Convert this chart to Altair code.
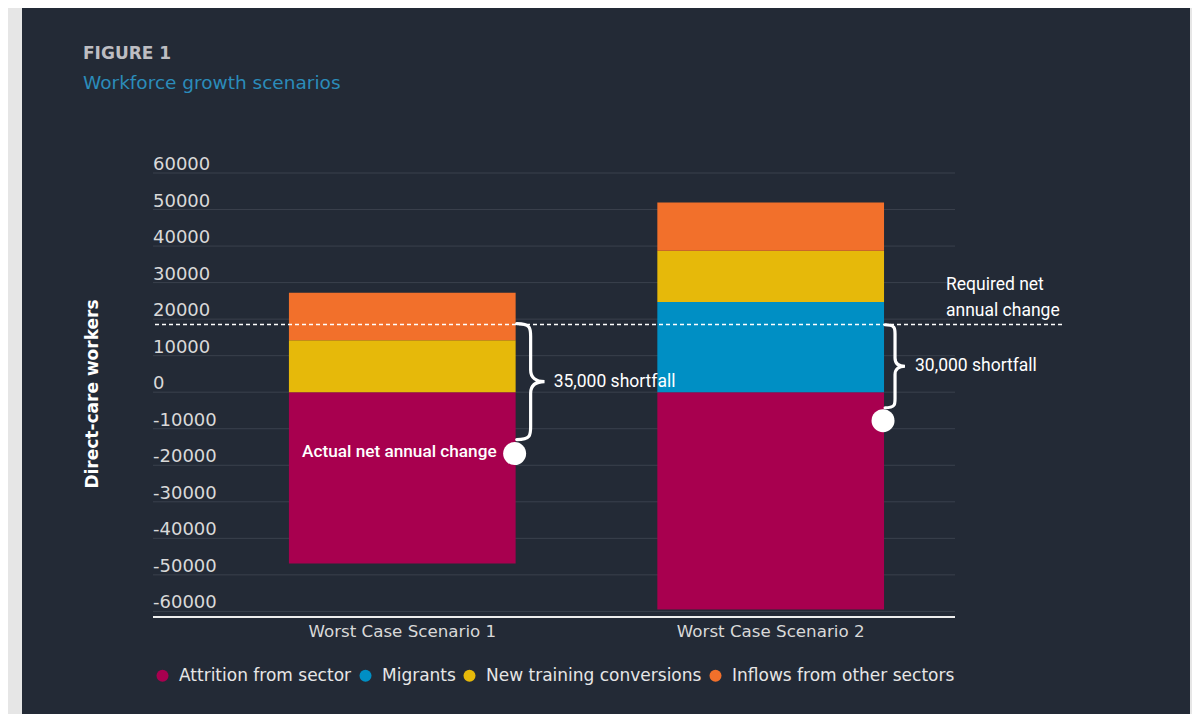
import altair as alt
import pandas as pd

# ---------------- data ----------------
scenarios = ["Worst Case Scenario 1", "Worst Case Scenario 2"]
series = ["Attrition from sector", "Migrants", "New training conversions", "Inflows from other sectors"]
colors = ["#a8004f", "#008fc4", "#e6b90a", "#f2702b"]
attrition = [-46900, -59500]
migrants = [0, 24700]
training = [14200, 14000]
inflows = [13000, 13200]
required_change = 18500
actual_change = [-16800, -7800]
shortfall_labels = ["35,000 shortfall", "30,000 shortfall"]
brace_mid = [2900, 7100]
y_ticks = list(range(-60000, 60001, 10000))

rows = []
for s_i, (name, vals) in enumerate(zip(series, [attrition, migrants, training, inflows])):
    for sc, v in zip(scenarios, vals):
        if v != 0:
            rows.append({"scenario": sc, "series": name, "value": v, "idx": s_i})
bars_df = pd.DataFrame(rows)

# ---------------- layout ----------------
W, H = 802, 444
BG = "#232a36"
FONT = "DejaVu Sans"
ANN_FONT = "Roboto"
LBL = "#d9d9d9"

xscale = alt.Scale(domain=scenarios, paddingInner=0.3846, paddingOuter=0.2808, align=0.657)
yscale = alt.Scale(domain=[-61533, 60000], nice=False, zero=False)

one = pd.DataFrame({"a": [0]})

panel = alt.Chart(one).mark_rect(color=BG).encode(
    x=alt.value(-131), x2=alt.value(1037), y=alt.value(-165), y2=alt.value(541)
)

tick_df = pd.DataFrame({"v": y_ticks, "lab": [str(v) for v in y_ticks]})

grid = alt.Chart(tick_df).mark_rule(color="#3a414d", strokeWidth=1).encode(
    y=alt.Y("v:Q", scale=yscale, axis=None), x=alt.value(0), x2=alt.value(W)
)

ylabels = alt.Chart(tick_df).mark_text(
    align="left", baseline="alphabetic", dy=-3, font=FONT, fontSize=18, color=LBL
).encode(
    y=alt.Y("v:Q", scale=yscale, axis=None), x=alt.value(0), text="lab:N"
)

xlab_df = pd.DataFrame({"scenario": scenarios})
xlabels = alt.Chart(xlab_df).mark_text(
    baseline="middle", font=FONT, fontSize=16.7, color=LBL
).encode(
    x=alt.X("scenario:N", scale=xscale, axis=None), y=alt.value(H + 15), text="scenario:N"
)

baseline_rule = alt.Chart(one).mark_rule(color="#eeeeee", strokeWidth=2).encode(
    x=alt.value(0), x2=alt.value(W), y=alt.value(H)
)

bars = alt.Chart(bars_df).mark_bar().encode(
    x=alt.X("scenario:N", scale=xscale, axis=None),
    y=alt.Y("value:Q", scale=yscale, stack="zero", axis=None),
    color=alt.Color("series:N", scale=alt.Scale(domain=series, range=colors), legend=alt.Legend(
        title=None, orient="none", legendX=1, legendY=494, direction="horizontal",
        symbolType="circle", symbolSize=144, symbolStrokeWidth=0, symbolOpacity=1,
        labelFont=FONT, labelFontSize=17, labelColor="#e6e6e6", columnPadding=5,
        labelOffset=8, padding=0, labelLimit=0)),
    order=alt.Order("idx:Q", sort="ascending"),
)

required = alt.Chart(pd.DataFrame({"v": [required_change]})).mark_rule(
    color="white", strokeDash=[4, 3], strokeWidth=1.5
).encode(y=alt.Y("v:Q", scale=yscale, axis=None), x=alt.value(2), x2=alt.value(909))

layers = [panel, grid, ylabels, xlabels, baseline_rule, bars, required]

brace_dx = [15, 11]
brace_h = [116, 83]
text_dx = [38, 31]
hw = 0.24
brace_path = (
    f"M {-hw} -1 C 0 -1 0 -0.92 0 -0.78 L 0 -0.2 C 0 -0.06 {hw*0.4} 0 {hw} 0 "
    f"C {hw*0.4} 0 0 0.06 0 0.2 L 0 0.78 C 0 0.92 0 1 {-hw} 1"
)

for i in range(2):
    bdf = pd.DataFrame({"scenario": [scenarios[i]], "mid": [brace_mid[i]],
                        "dot": [actual_change[i]], "label": [shortfall_labels[i]]})
    brace = alt.Chart(bdf).mark_point(
        shape=brace_path, size=brace_h[i] ** 2, filled=False, stroke="white",
        strokeWidth=3.2, opacity=1, xOffset=brace_dx[i], strokeCap="round"
    ).encode(
        x=alt.X("scenario:N", scale=xscale, bandPosition=1, axis=None),
        y=alt.Y("mid:Q", scale=yscale, axis=None),
    )
    dot = alt.Chart(bdf).mark_circle(size=529, color="white", opacity=1, xOffset=-1).encode(
        x=alt.X("scenario:N", scale=xscale, bandPosition=1, axis=None),
        y=alt.Y("dot:Q", scale=yscale, axis=None),
    )
    txt = alt.Chart(bdf).mark_text(
        align="left", baseline="middle", dx=text_dx[i], font=ANN_FONT, fontSize=17.5, color="white"
    ).encode(
        x=alt.X("scenario:N", scale=xscale, bandPosition=1, axis=None),
        y=alt.Y("mid:Q", scale=yscale, axis=None),
        text="label:N",
    )
    layers += [brace, dot, txt]

actual_df = pd.DataFrame({"scenario": [scenarios[0]], "v": [-16300], "t": ["Actual net annual change"]})
actual_lbl = alt.Chart(actual_df).mark_text(
    align="right", baseline="middle", dx=-19, font=ANN_FONT, fontSize=17.2, fontWeight=500, color="white"
).encode(
    x=alt.X("scenario:N", scale=xscale, bandPosition=1, axis=None),
    y=alt.Y("v:Q", scale=yscale, axis=None),
    text="t:N",
)

req_lbl = alt.Chart(one).mark_text(
    align="left", baseline="middle", font=ANN_FONT, fontSize=17.5, color="white", lineHeight=26,
    text=["Required net", "annual change"]
).encode(x=alt.value(793), y=alt.value(112))

fig_lbl = alt.Chart(one).mark_text(
    align="left", baseline="middle", font=FONT, fontSize=17, fontWeight="bold", color="#bdbdc2",
    text="FIGURE 1"
).encode(x=alt.value(-70), y=alt.value(-119))

sub_lbl = alt.Chart(one).mark_text(
    align="left", baseline="middle", font=FONT, fontSize=18.5, color="#2b8cba",
    text="Workforce growth scenarios"
).encode(x=alt.value(-70), y=alt.value(-90))

ytitle = alt.Chart(one).mark_text(
    align="center", baseline="middle", font=FONT, fontSize=17, fontWeight="bold", color="white",
    angle=270, text="Direct-care workers"
).encode(x=alt.value(-60), y=alt.value(221))

layers += [actual_lbl, req_lbl, fig_lbl, sub_lbl, ytitle]

chart = alt.layer(*layers).properties(
    width=W, height=H,
    autosize=alt.AutoSizeParams(type="none"),
    padding={"left": 145, "top": 165, "right": 237, "bottom": 97},
    background="#e6e6e6",
).configure_view(stroke=None)

chart.save("out.html", embed_options={"renderer": "svg", "actions": False})
